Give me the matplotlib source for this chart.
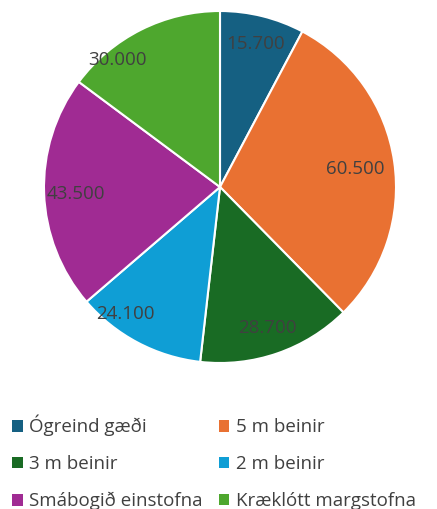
import matplotlib.pyplot as plt
from matplotlib.patches import Patch

plt.rcParams['font.family'] = ['Open Sans', 'DejaVu Sans']

categories = ["Ógreind gæði", "5 m beinir", "3 m beinir", "2 m beinir",
              "Smábogið einstofna", "Kræklótt margstofna"]
values = [15700, 60500, 28700, 24100, 43500, 30000]
colors = ["#156082", "#E97132", "#196B24", "#0F9ED5", "#A02B93", "#4EA72E"]
# label spots (in pie radius units), as Excel put them
label_pos = [(0.20, 0.81), (0.77, 0.10), (0.27, -0.80),
             (-0.54, -0.72), (-0.82, -0.04), (-0.58, 0.72)]

fig = plt.figure(figsize=(4.37, 5.09), dpi=100)
ax = fig.add_axes([44 / 437, 1 - 363 / 509, 352 / 437, 352 / 509])

wedges = ax.pie(values, colors=colors, startangle=90, counterclock=False,
                wedgeprops=dict(edgecolor="white", linewidth=1.5))[0]

for (x, y), v in zip(label_pos, values):
    ax.text(x, y, f"{v:,}".replace(",", "."),
            ha="center", va="center", fontsize=13.5, color="#404040")
ax.set_xlim(-1, 1)
ax.set_ylim(-1, 1)
ax.set_aspect("equal")

# row-major order like the original legend
order = [0, 2, 4, 1, 3, 5]
handles = [Patch(facecolor=colors[i]) for i in order]
labels = [categories[i] for i in order]
fig.legend(handles, labels, ncol=2, loc="upper left",
           bbox_to_anchor=(12 / 437, 1 - 415 / 509), frameon=False,
           borderpad=0, borderaxespad=0,
           fontsize=13.5, labelcolor="#404040", handlelength=0.57, handleheight=0.57,
           handletextpad=0.35, columnspacing=0.85, labelspacing=1.0)

fig.savefig("out.png", dpi=100)
